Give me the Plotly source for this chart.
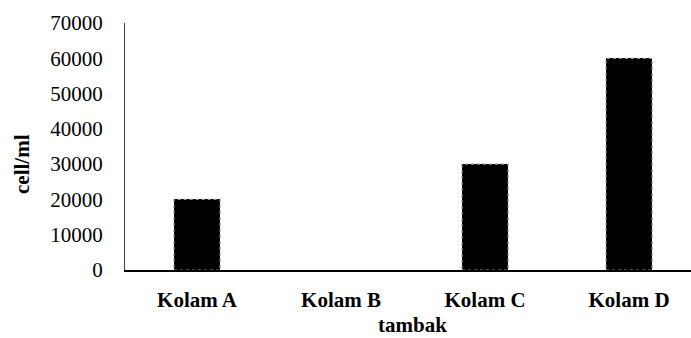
import plotly.graph_objects as go

categories = ["Kolam A", "Kolam B", "Kolam C", "Kolam D"]
values = [20000, 0, 30000, 60000]
y_ticks = [0, 10000, 20000, 30000, 40000, 50000, 60000, 70000]
y_tick_labels = ["0", "10000", "20000", "30000", "40000", "50000", "60000", "70000"]
x_title = "tambak"
y_title = "cell/ml"

FONT = "Times New Roman"
bar_w = 0.32
idx = list(range(len(categories)))

fig = go.Figure()
fig.add_trace(go.Bar(
    x=idx, y=values, width=bar_w,
    marker=dict(color="black", line=dict(width=0)),
    showlegend=False, hoverinfo="x+y",
))

# dotted outlines of bars
for i, v in zip(idx, values):
    if v > 0:
        fig.add_shape(type="rect", xref="x", yref="y",
                      x0=i - bar_w / 2, x1=i + bar_w / 2, y0=0, y1=v,
                      line=dict(color="#9a9a9a", width=1.2, dash="dot"),
                      fillcolor="rgba(0,0,0,0)", layer="above")

fig.update_layout(
    width=691, height=338,
    margin=dict(l=125, r=0, t=23, b=68, autoexpand=False),
    paper_bgcolor="white", plot_bgcolor="white",
    font=dict(family=FONT, size=21, color="black"),
    bargap=0,
)
fig.update_xaxes(
    tickmode="array", tickvals=idx,
    ticktext=["<b>%s</b>" % c for c in categories],
    range=[-0.5, 3.43], automargin=False,
    showline=True, linecolor="black", linewidth=1.6,
    showgrid=False, zeroline=False, ticks="",
    ticklabelstandoff=10,
    tickfont=dict(family=FONT, size=21, color="black"),
)
fig.update_yaxes(
    range=[0, 70000], tickmode="array", tickvals=y_ticks, ticktext=y_tick_labels,
    automargin=False,
    showline=True, linecolor="#404040", linewidth=1.2,
    showgrid=False, zeroline=False, ticks="",
    ticklabelstandoff=17,
    tickfont=dict(family=FONT, size=21, color="black"),
)
fig.add_annotation(text="<b>%s</b>" % x_title, xref="paper", yref="paper",
                   x=(412 - 125) / 566, y=-(325 - 270) / 247,
                   showarrow=False, xanchor="center", yanchor="middle",
                   font=dict(family=FONT, size=21, color="black"))
fig.add_annotation(text="<b>%s</b>" % y_title, xref="paper", yref="paper",
                   x=-(125 - 22) / 566, y=(270 - 164) / 247, textangle=-90,
                   showarrow=False, xanchor="center", yanchor="middle",
                   font=dict(family=FONT, size=21, color="black"))

fig.write_html("out.html", config={"displayModeBar": False},
               post_script="document.body.style.margin='0';document.body.style.overflow='hidden';")
